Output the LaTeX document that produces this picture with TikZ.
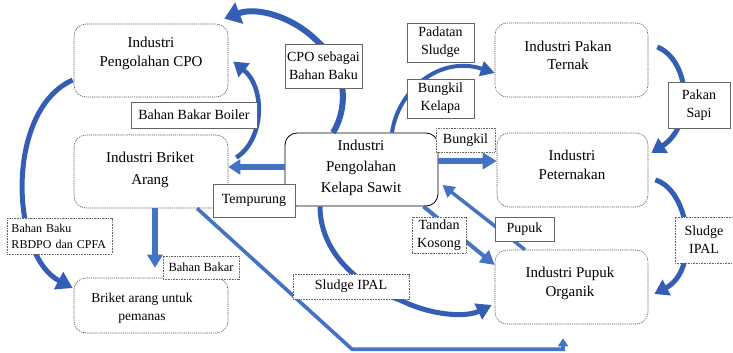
\documentclass[tikz,border=0pt]{standalone}
\usepackage{fontspec}
\setmainfont{Liberation Serif}
\usetikzlibrary{arrows.meta,calc}
\definecolor{arrblue}{RGB}{68,114,196}
\definecolor{curvblue}{RGB}{52,94,180}
\begin{document}
\begin{tikzpicture}[x=1pt,y=-1pt,
  mainbox/.style={draw=black!65, line width=0.6pt, dash pattern=on 1.2pt off 0.9pt, rounded corners=12pt, fill=white, inner sep=0pt},
  boxtext/.style={align=center, font=\fontsize{15}{19}\selectfont, inner sep=0pt},
  lbl/.style={draw=black!60, line width=0.6pt, fill=white, align=center, font=\fontsize{14}{18}\selectfont, inner sep=2pt},
  lbldot/.style={lbl, dash pattern=on 1pt off 0.6pt},
  flowarr/.style={draw=arrblue},
  curvarr/.style={draw=curvblue}
]
\fill[white] (0,0) rectangle (733,353);
\useasboundingbox (0,0) rectangle (733,353);

% main boxes
\node[mainbox, minimum width=154pt, minimum height=73pt] (cpo) at (151,60.5) {};
\node[boxtext] (cpotxt) at (151,53) {Industri\\Pengolahan CPO};
\node[mainbox, minimum width=154pt, minimum height=73pt] (briket) at (151,171.5) {};
\node[boxtext, font=\fontsize{15}{22}\selectfont] (brikettxt) at (150,170) {Industri Briket\\Arang};
\node[mainbox, minimum width=154pt, minimum height=55pt] (pemanas) at (151,305.5) {};
\node[boxtext, font=\fontsize{13.5}{18}\selectfont] (pemanastxt) at (142,308) {Briket arang untuk\\pemanas};
\node[draw=black, line width=0.8pt, rounded corners=12pt, fill=white, inner sep=0pt, minimum width=153pt, minimum height=73pt] (sawit) at (361.5,169.5) {};
\node[boxtext, font=\fontsize{15}{21}\selectfont] (sawittxt) at (361,168) {Industri\\Pengolahan\\Kelapa Sawit};
\node[mainbox, minimum width=153pt, minimum height=74pt] (pakan) at (571.5,60) {};
\node[boxtext, font=\fontsize{15}{18}\selectfont] (pakantxt) at (568,55) {Industri Pakan\\Ternak};
\node[mainbox, minimum width=151pt, minimum height=74pt] (peter) at (572.5,170) {};
\node[boxtext] (petertxt) at (572,164.5) {Industri\\Peternakan};
\node[mainbox, minimum width=153pt, minimum height=74pt] (pupuk) at (571.5,287) {};
\node[boxtext] (pupuktxt) at (570,283.5) {Industri Pupuk\\Organik};

% connectors
\draw[curvarr, line width=6pt, -{Triangle[width=22pt,length=16pt]}]
  ([xshift=-28.5pt]sawit.north) .. controls (350,105) and (345,65) .. (318,42)
  .. controls (295,18) and (258,6) .. ([xshift=-4pt,yshift=5pt]cpo.north east);
\draw[curvarr, line width=4.5pt, -{Triangle[width=17pt,length=14pt]}]
  ([xshift=8pt,yshift=14pt]briket.east) .. controls (264,140) and (266,88) .. ([xshift=5pt,yshift=-1pt]cpo.east);
\draw[flowarr, line width=5.5pt, -{Triangle[width=15pt,length=12pt]}]
  ([yshift=2.5pt]sawit.west) -- ([yshift=4.5pt]briket.east);
\draw[curvarr, line width=4pt, -{Triangle[width=15pt,length=14pt]}]
  ([xshift=30.5pt]sawit.north) .. controls (398,90) and (440,55) .. ([yshift=-13pt]pakan.west);
\draw[flowarr, line width=6pt, -{Triangle[width=16pt,length=14pt]}]
  ([yshift=8.5pt]sawit.east) -- ([yshift=9pt]peter.west);
\draw[curvarr, line width=5pt, -{Triangle[width=17pt,length=14pt]}]
  ([xshift=9pt,yshift=13pt]pakan.east) .. controls (690,60) and (695,125) .. ([xshift=3pt,yshift=17pt]peter.east);
\draw[curvarr, line width=5pt, -{Triangle[width=17pt,length=14pt]}]
  ([xshift=7pt,yshift=-10pt]peter.east) .. controls (690,190) and (700,270) .. ([xshift=6pt,yshift=-7pt]pupuk.east);
\draw[flowarr, line width=3.5pt, -{Triangle[width=13pt,length=12pt]}]
  ([xshift=-46.5pt]pupuk.north) -- ([xshift=4pt,yshift=-15.5pt]sawit.east);
\draw[flowarr, line width=4pt, -{Triangle[width=15pt,length=14pt]}]
  ([xshift=62pt]sawit.south) -- ([yshift=22pt]pupuk.west);
\draw[curvarr, line width=5pt, -{Triangle[width=17pt,length=15pt]}]
  ([xshift=-41.5pt]sawit.south) .. controls (320,250) and (355,285) .. (400,300)
  .. controls (430,315) and (465,318) .. ([xshift=-3pt,yshift=-18pt]pupuk.west);
\draw[flowarr, line width=3.6pt, -{Triangle[width=10pt,length=8pt]}]
  ([xshift=46pt]briket.south) -- (352,349.2) -| ([xshift=-8.5pt,yshift=-14pt]pupuk.south);
\draw[flowarr, line width=5.5pt, -{Triangle[width=15pt,length=13pt]}]
  ([xshift=4pt]briket.south) -- ([xshift=4pt,yshift=10pt]pemanas.north);
\draw[curvarr, line width=5pt, -{Triangle[width=19pt,length=16pt]}]
  ([xshift=-1pt,yshift=-19.5pt]cpo.west) .. controls (5,110) and (10,255) .. ([xshift=-1pt,yshift=17.5pt]pemanas.west);

% labels
\node[lbl, minimum width=77pt, minimum height=44pt] (cpolbl) at (323.5,66) {CPO sebagai\\Bahan Baku};
\node[lbl, minimum width=126pt, minimum height=26pt] (boiler) at (194,115) {Bahan Bakar Boiler};
\node[lbl, minimum width=67pt, minimum height=39pt] (padatan) at (440.5,42.5) {Padatan\\Sludge};
\node[lbl, minimum width=67pt, minimum height=39pt] (bungkilk) at (440.5,98.5) {Bungkil\\Kelapa};
\node[lbldot, minimum width=59pt, minimum height=24pt] (bungkil) at (465.5,140) {Bungkil};
\node[lbl, minimum width=62pt, minimum height=46pt] (pakansapi) at (699,105) {Pakan\\Sapi};
\node[lbl, minimum width=82pt, minimum height=33pt] (tempurung) at (254,200.5) {Tempurung};
\node[lbldot, text width=96pt, align=left, inner xsep=4.5pt, minimum height=36pt, font=\fontsize{12}{16}\selectfont] (rbdpo) at (59.5,236) {Bahan Baku\\RBDPO dan CPFA};
\node[lbldot, minimum width=76pt, minimum height=23pt, font=\fontsize{12.5}{15}\selectfont] (bakar) at (201,267.5) {Bahan Bakar};
\node[lbldot, minimum width=54pt, minimum height=36pt] (tandan) at (439,235) {Tandan\\Kosong};
\node[lbl, minimum width=59pt, minimum height=24pt] (pupuklbl) at (524.5,229) {Pupuk};
\node[lbldot, minimum width=58pt, minimum height=46pt] (sludger) at (704,240) {Sludge\\IPAL};
\node[lbldot, minimum width=116pt, minimum height=25pt] (sludgeb) at (351,286.5) {Sludge IPAL};
\end{tikzpicture}
\end{document}
